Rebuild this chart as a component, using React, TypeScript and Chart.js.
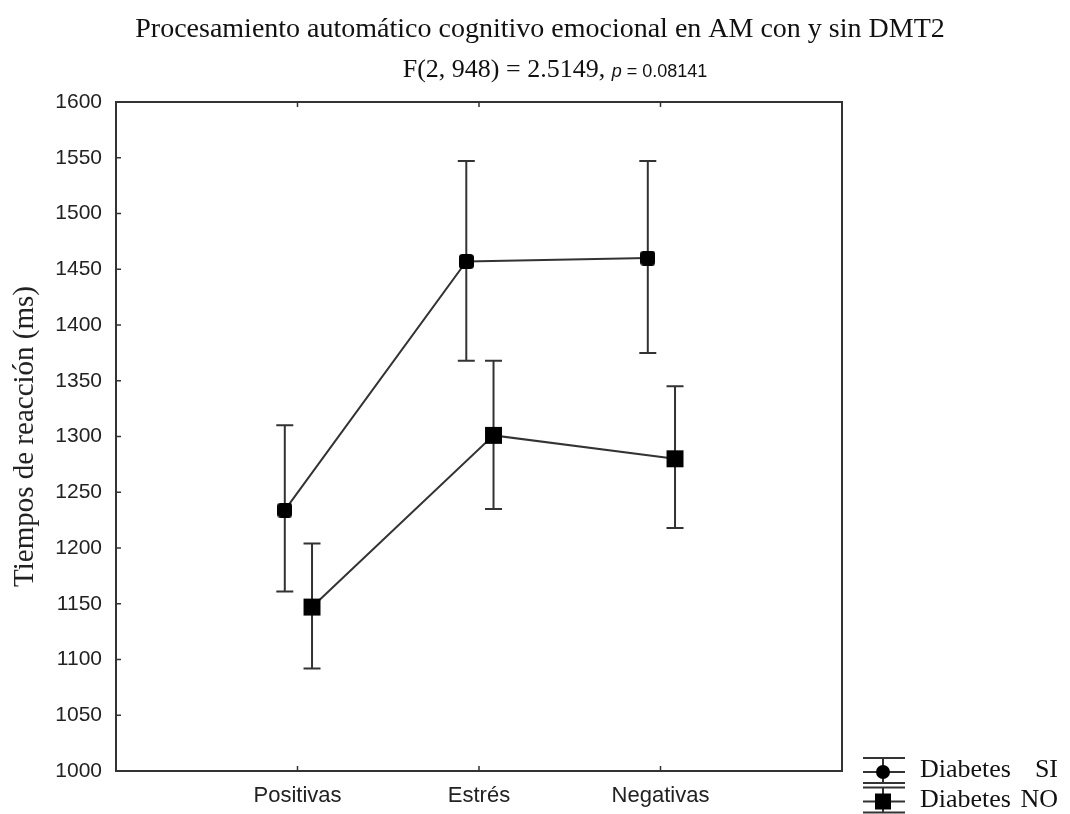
import { useEffect, useRef } from 'react';
import { Chart, registerables } from 'chart.js';

Chart.register(...registerables);

const categories = ['Positivas', 'Estrés', 'Negativas'];
const categoryPositions = [1, 2, 3];
const yTicks = [1000, 1050, 1100, 1150, 1200, 1250, 1300, 1350, 1400, 1450, 1500, 1550, 1600];

const legendPrefix = 'Diabetes';
const seriesGroups = ['SI', 'NO'];
const siMeans = [1234, 1457, 1460];
const siLow = [1161, 1368, 1375];
const siHigh = [1310, 1547, 1547];
const noMeans = [1147, 1301, 1280];
const noLow = [1092, 1235, 1218];
const noHigh = [1204, 1368, 1345];
const siOffset = -0.07;
const noOffset = 0.08;

const titleLine1 = 'Procesamiento automático cognitivo emocional en AM con y sin DMT2';
const titleLine2a = 'F(2, 948) = 2.5149, ';
const titleLine2b = 'p';
const titleLine2c = ' = 0.08141';

const LINE = '#333333';
const SERIF = '"Liberation Serif", "Times New Roman", serif';
const SANS = '"Liberation Sans", Arial, sans-serif';

const errorBars = [
  { offset: siOffset, low: siLow, high: siHigh },
  { offset: noOffset, low: noLow, high: noHigh },
];

function roundedMarker(size: number, r: number) {
  const c = document.createElement('canvas');
  c.width = size;
  c.height = size;
  const g = c.getContext('2d')!;
  g.fillStyle = '#000';
  g.beginPath();
  (g as any).roundRect(0, 0, size, size, r);
  g.fill();
  return c;
}

const framePlugin = {
  id: 'frameAndBars',
  beforeDatasetsDraw(chart: any) {
    const { ctx, scales } = chart;
    const x = scales.x;
    const y = scales.y;
    ctx.save();
    ctx.strokeStyle = LINE;
    ctx.lineWidth = 2;
    errorBars.forEach((eb) => {
      categoryPositions.forEach((p, i) => {
        const px = x.getPixelForValue(p + eb.offset);
        const pl = y.getPixelForValue(eb.low[i]);
        const ph = y.getPixelForValue(eb.high[i]);
        ctx.beginPath();
        ctx.moveTo(px, pl);
        ctx.lineTo(px, ph);
        ctx.moveTo(px - 8.5, pl);
        ctx.lineTo(px + 8.5, pl);
        ctx.moveTo(px - 8.5, ph);
        ctx.lineTo(px + 8.5, ph);
        ctx.stroke();
      });
    });
    ctx.restore();
  },
  afterDraw(chart: any) {
    const { ctx, chartArea, scales } = chart;
    const x = scales.x;
    const y = scales.y;
    ctx.save();
    ctx.strokeStyle = LINE;
    ctx.lineWidth = 2;
    ctx.strokeRect(chartArea.left, chartArea.top, chartArea.right - chartArea.left, chartArea.bottom - chartArea.top);
    ctx.lineWidth = 1.5;
    ctx.beginPath();
    yTicks.forEach((v) => {
      const py = y.getPixelForValue(v);
      ctx.moveTo(chartArea.left, py);
      ctx.lineTo(chartArea.left + 5, py);
    });
    categoryPositions.forEach((p) => {
      const px = x.getPixelForValue(p);
      ctx.moveTo(px, chartArea.top);
      ctx.lineTo(px, chartArea.top + 5);
      ctx.moveTo(px, chartArea.bottom);
      ctx.lineTo(px, chartArea.bottom - 5);
    });
    ctx.stroke();

    // title
    ctx.fillStyle = '#111';
    ctx.textBaseline = 'alphabetic';
    ctx.textAlign = 'center';
    ctx.font = `28px ${SERIF}`;
    ctx.fillText(titleLine1, 540, 37);
    ctx.textAlign = 'left';
    const fA = `26px ${SERIF}`;
    const fB = `italic 18px ${SANS}`;
    const fC = `18px ${SANS}`;
    ctx.font = fA; const wA = ctx.measureText(titleLine2a).width;
    ctx.font = fB; const wB = ctx.measureText(titleLine2b).width;
    ctx.font = fC; const wC = ctx.measureText(titleLine2c).width;
    let sx = 555 - (wA + wB + wC) / 2;
    const by = 77;
    ctx.font = fA; ctx.fillText(titleLine2a, sx, by); sx += wA;
    ctx.font = fB; ctx.fillText(titleLine2b, sx, by); sx += wB;
    ctx.font = fC; ctx.fillText(titleLine2c, sx, by);

    // legend
    const legendY = [772, 801.5];
    const cx = 883;
    legendY.forEach((ly, i) => {
      ctx.strokeStyle = LINE;
      ctx.lineWidth = 2;
      ctx.beginPath();
      ctx.moveTo(863, ly - 14); ctx.lineTo(905, ly - 14);
      ctx.moveTo(863, ly); ctx.lineTo(905, ly);
      ctx.moveTo(863, ly + 11); ctx.lineTo(905, ly + 11);
      ctx.moveTo(cx, ly - 14); ctx.lineTo(cx, ly + 11);
      ctx.stroke();
      ctx.fillStyle = '#000';
      ctx.beginPath();
      if (i === 0) {
        ctx.arc(cx, ly, 7, 0, Math.PI * 2);
      } else {
        ctx.rect(cx - 8, ly - 8, 16, 16);
      }
      ctx.fill();
      ctx.fillStyle = '#111';
      ctx.font = `26px ${SERIF}`;
      ctx.textAlign = 'left';
      ctx.fillText(legendPrefix, 920, ly + 5);
      ctx.textAlign = 'right';
      ctx.fillText(seriesGroups[i], 1058, ly + 5);
    });
    ctx.restore();
  },
};

export default function App() {
  const ref = useRef<HTMLCanvasElement>(null);
  useEffect(() => {
    const siMarker = roundedMarker(15, 3.5);
    const chart = new Chart(ref.current!, {
      type: 'line',
      data: {
        datasets: [
          {
            label: `${legendPrefix} ${seriesGroups[0]}`,
            data: categoryPositions.map((p, i) => ({ x: p + siOffset, y: siMeans[i] })),
            borderColor: LINE,
            borderWidth: 2,
            pointStyle: siMarker,
            pointRadius: 8,
            pointBackgroundColor: '#000',
            pointBorderWidth: 0,
          },
          {
            label: `${legendPrefix} ${seriesGroups[1]}`,
            data: categoryPositions.map((p, i) => ({ x: p + noOffset, y: noMeans[i] })),
            borderColor: LINE,
            borderWidth: 2,
            pointStyle: 'rect',
            pointRadius: 12,
            pointBackgroundColor: '#000',
            pointBorderWidth: 0,
          },
        ],
      },
      options: {
        animation: false,
        responsive: true,
        maintainAspectRatio: false,
        layout: { padding: { left: 0, top: 102, right: 228, bottom: 0 } },
        plugins: { legend: { display: false }, tooltip: { enabled: false }, title: { display: false } },
        scales: {
          x: {
            type: 'linear',
            min: 0,
            max: 4,
            grid: { display: false, drawTicks: false },
            border: { display: false },
            afterBuildTicks: (scale: any) => {
              scale.ticks = categoryPositions.map((v) => ({ value: v }));
            },
            afterFit: (scale: any) => {
              scale.height = 43;
            },
            ticks: {
              autoSkip: false,
              maxRotation: 0,
              padding: 12,
              color: '#222',
              font: { family: SANS, size: 22 },
              callback: (v: any) => {
                const i = categoryPositions.indexOf(Number(v));
                return i >= 0 ? categories[i] : '';
              },
            },
          },
          y: {
            type: 'linear',
            min: 1000,
            max: 1600,
            grid: { display: false, drawTicks: false },
            border: { display: false },
            afterBuildTicks: (scale: any) => {
              scale.ticks = yTicks.map((v) => ({ value: v }));
            },
            afterFit: (scale: any) => {
              scale.width = 116;
            },
            ticks: {
              padding: 14,
              color: '#222',
              font: { family: SANS, size: 21 },
              callback: (v: any) => String(v),
            },
            title: {
              display: true,
              text: 'Tiempos de reacción (ms)',
              color: '#222',
              padding: { top: 8, bottom: 0 },
              font: { family: SERIF, size: 29 },
            },
          },
        },
      },
      plugins: [framePlugin],
    } as any);
    return () => chart.destroy();
  }, []);
  return (
    <div style={{ position: 'fixed', left: 0, top: 0, width: 1070, height: 814, background: '#fff' }}>
      <canvas ref={ref} />
    </div>
  );
}
